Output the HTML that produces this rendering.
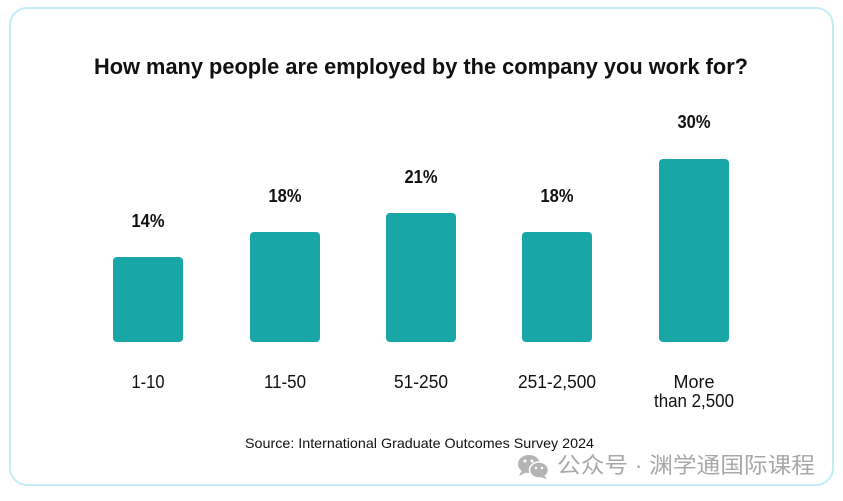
<!DOCTYPE html>
<html><head><meta charset="utf-8"><style>
html,body{margin:0;padding:0;background:#fff;}
svg{display:block;}
</style></head><body>
<svg width="843" height="501" viewBox="0 0 843 501" xmlns="http://www.w3.org/2000/svg">
<rect x="0" y="0" width="843" height="501" fill="#fff"/>
<rect x="10" y="8" width="823" height="477" rx="17" ry="17" fill="#fff" stroke="#c4ecf8" stroke-width="2"/>
<text x="421" y="74" text-anchor="middle" font-family="Liberation Sans, sans-serif" font-weight="bold" font-size="22.5" fill="#111" textLength="654" lengthAdjust="spacingAndGlyphs">How many people are employed by the company you work for?</text>
<g fill="#18a6a7">
<rect x="113" y="257" width="70" height="85" rx="4"/>
<rect x="250" y="232" width="70" height="110" rx="4"/>
<rect x="386" y="213" width="70" height="129" rx="4"/>
<rect x="522" y="232" width="70" height="110" rx="4"/>
<rect x="659" y="159" width="70" height="183" rx="4"/>
</g>
<g font-family="Liberation Sans, sans-serif" font-weight="bold" font-size="18" fill="#111" text-anchor="middle">
<text x="148" y="227" textLength="33" lengthAdjust="spacingAndGlyphs">14%</text>
<text x="285" y="202" textLength="33" lengthAdjust="spacingAndGlyphs">18%</text>
<text x="421" y="183" textLength="33" lengthAdjust="spacingAndGlyphs">21%</text>
<text x="557" y="202" textLength="33" lengthAdjust="spacingAndGlyphs">18%</text>
<text x="694" y="128" textLength="33" lengthAdjust="spacingAndGlyphs">30%</text>
</g>
<g font-family="Liberation Sans, sans-serif" font-size="18" fill="#111" text-anchor="middle">
<text x="148" y="388" textLength="33" lengthAdjust="spacingAndGlyphs">1-10</text>
<text x="285" y="388" textLength="42" lengthAdjust="spacingAndGlyphs">11-50</text>
<text x="421" y="388" textLength="54" lengthAdjust="spacingAndGlyphs">51-250</text>
<text x="557" y="388" textLength="78" lengthAdjust="spacingAndGlyphs">251-2,500</text>
<text x="694" y="388" textLength="41" lengthAdjust="spacingAndGlyphs">More</text>
<text x="694" y="407" textLength="80" lengthAdjust="spacingAndGlyphs">than 2,500</text>
</g>
<text x="419.5" y="448" text-anchor="middle" font-family="Liberation Sans, sans-serif" font-size="14" fill="#111" textLength="349" lengthAdjust="spacingAndGlyphs">Source: International Graduate Outcomes Survey 2024</text>
<g fill="#b4b4b4">
<ellipse cx="529" cy="464" rx="11" ry="9"/>
<path d="M522 470 L519 476 L527 472 Z"/>
<ellipse cx="539" cy="470" rx="9.5" ry="8" stroke="#fff" stroke-width="1.5"/>
<path d="M544 475 L547 479 L540 477 Z"/>
</g>
<g fill="#fff">
<circle cx="525" cy="461" r="1.5"/><circle cx="532" cy="461" r="1.5"/>
<circle cx="536" cy="468" r="1.2"/><circle cx="542" cy="468" r="1.2"/>
</g>
<text x="557" y="473" font-family="Liberation Sans, 'Noto Sans CJK SC', sans-serif" font-size="22" fill="#a8a8a8" textLength="258" lengthAdjust="spacingAndGlyphs">公众号 · 渊学通国际课程</text>
</svg>
</body></html>
